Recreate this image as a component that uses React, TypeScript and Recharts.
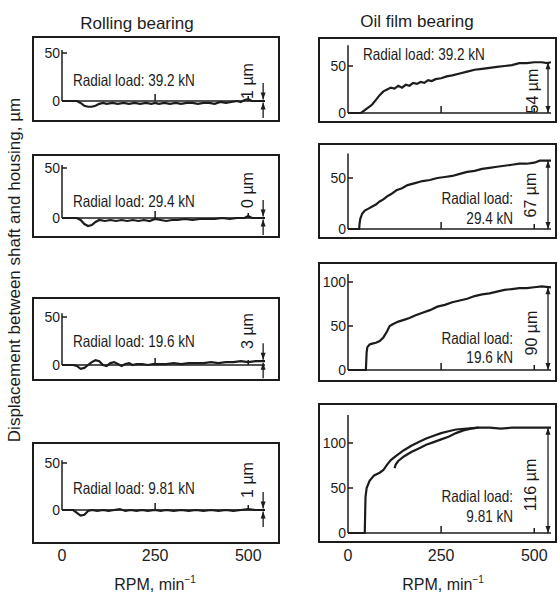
import React from 'react';
import { LineChart, Line, XAxis, YAxis, ReferenceLine } from 'recharts';

// [rpm, displacement µm] pairs
const rolling392 = [[0, 0], [20, 0], [40, 0], [50, -2], [60, -5], [70, -6], [80, -6], [90, -5], [100, -3], [110, -2], [120, -3], [135, -2], [150, -3], [165, -2], [180, -3], [195, -2], [210, -3], [225, -2], [240, -3], [250, -2], [260, -3], [275, -2], [290, -3], [305, -2], [320, -3], [335, -2], [350, -2], [365, -3], [380, -2], [395, -2], [410, -3], [425, -1], [440, -2], [455, -1], [470, 0], [480, -1], [490, 1], [500, 2], [510, 0], [525, 0], [545, 0]];
const rolling294 = [[0, 0], [40, 0], [50, -2], [60, -6], [70, -8], [80, -7], [90, -4], [100, -2], [115, -3], [130, -2], [145, -3], [160, -2], [175, -3], [190, -2], [205, -3], [220, -2], [235, -3], [250, -1], [265, -2], [280, -3], [295, -2], [310, -2], [330, -1], [350, -2], [370, -1], [390, -1], [410, -1], [430, 0], [450, -1], [470, 0], [490, 0], [500, 2], [510, 0], [545, 0]];
const rolling196 = [[0, 0], [30, 0], [40, -1], [50, -4], [60, -3], [70, 0], [80, 3], [90, 5], [100, 4], [110, 0], [120, -1], [130, 2], [140, 3], [150, 1], [160, -1], [170, 1], [180, 2], [190, 0], [200, 1], [215, 1], [230, 0], [245, 1], [260, 1], [280, 1], [300, 2], [320, 1], [340, 2], [360, 2], [380, 2], [400, 3], [420, 2], [440, 3], [460, 3], [480, 4], [500, 3], [520, 4], [545, 4]];
const rolling981 = [[0, 0], [30, 0], [40, -3], [50, -6], [60, -5], [70, -1], [80, 0], [95, -1], [110, 0], [125, -1], [140, 0], [155, 1], [170, -1], [185, 0], [200, -1], [215, 0], [230, -1], [250, 0], [265, -1], [280, 0], [300, -1], [320, 0], [340, -1], [360, 0], [380, -1], [400, 0], [420, -1], [440, 0], [460, -1], [480, 0], [500, 1], [520, 0], [545, 0]];

const oil392 = [[0, 0], [35, 0], [45, 3], [55, 6], [65, 9], [75, 14], [85, 19], [95, 23], [105, 25], [115, 27], [125, 26], [135, 29], [145, 27], [155, 30], [165, 29], [175, 32], [185, 31], [195, 33], [205, 32], [215, 35], [225, 34], [235, 36], [250, 37], [265, 39], [280, 40], [300, 42], [320, 44], [340, 46], [360, 47], [380, 48], [400, 49], [420, 50], [440, 51], [460, 53], [480, 53], [500, 54], [520, 54], [535, 53], [545, 54]];
const oil294 = [[0, 0], [30, 0], [31, 5], [33, 10], [38, 15], [45, 18], [55, 20], [65, 22], [75, 24], [85, 27], [95, 29], [105, 32], [115, 34], [130, 38], [145, 40], [160, 43], [180, 45], [200, 47], [220, 48], [240, 50], [260, 51], [280, 52], [300, 54], [320, 56], [340, 57], [360, 59], [380, 60], [400, 61], [420, 62], [440, 63], [460, 64], [480, 64], [500, 65], [515, 67], [530, 67], [545, 67]];
const oil196 = [[0, 0], [48, 0], [49, 10], [50, 20], [52, 26], [58, 29], [65, 30], [75, 31], [85, 33], [95, 37], [105, 44], [112, 50], [120, 52], [135, 55], [150, 57], [165, 59], [180, 62], [200, 65], [220, 68], [240, 72], [260, 74], [280, 77], [300, 79], [320, 81], [340, 84], [360, 86], [380, 87], [400, 89], [420, 91], [440, 92], [460, 93], [480, 93], [500, 94], [520, 95], [545, 94]];
const oil981Up = [[0, 0], [45, 0], [46, 20], [47, 40], [50, 50], [58, 58], [70, 64], [85, 67], [95, 70], [105, 76], [115, 81], [130, 86], [150, 92], [170, 97], [190, 101], [210, 105], [230, 108], [250, 111], [270, 113], [290, 115], [320, 116], [350, 117], [380, 117], [410, 116], [440, 117], [470, 117], [500, 117], [520, 117], [545, 117]];
const oil981Down = [[125, 72], [128, 76], [135, 80], [150, 85], [170, 90], [190, 94], [210, 98], [230, 101], [250, 104], [270, 107], [290, 111], [310, 114], [330, 116], [350, 117]];

const rpmTicks = [0, 250, 500];
const rpmMax = 545;

const INK = '#1c1c1c';
const SANS = "'Liberation Sans', Arial, sans-serif";

const toPts = (a: number[][]) => a.map(([rpm, um]) => ({ rpm, um }));

const LEFT = { left: 32, width: 248, axisX: 62, plotRight: 265, arrowRpm: 540 };
const RIGHT = { left: 318, width: 239, axisX: 348, plotRight: 551, arrowRpm: 537 };

const panels = [
  { col: LEFT, top: 36, bottom: 122, y0: 101, k: 0.96, yMin: -18, yMax: 53, yTicks: [0, 50], series: [rolling392], arrow: 'point',
    load: ['Radial load: 39.2 kN'], loadX: 73, loadY: [80], loadAnchor: 'start', um: '1 µm', umX: 248, umY: 81 },
  { col: LEFT, top: 154, bottom: 238, y0: 218, k: 1.0, yMin: -18, yMax: 53, yTicks: [0, 50], series: [rolling294], arrow: 'point',
    load: ['Radial load: 29.4 kN'], loadX: 73, loadY: [201], loadAnchor: 'start', um: '0 µm', umX: 248, umY: 190 },
  { col: LEFT, top: 297, bottom: 381, y0: 365, k: 0.96, yMin: -18, yMax: 54, yTicks: [0, 50], series: [rolling196], arrow: 'point',
    load: ['Radial load: 19.6 kN'], loadX: 73, loadY: [341], loadAnchor: 'start', um: '3 µm', umX: 248, umY: 331 },
  { col: LEFT, top: 442, bottom: 544, y0: 510, k: 0.94, yMin: -18, yMax: 53, yTicks: [0, 50], series: [rolling981], arrow: 'point', axisLabels: true,
    load: ['Radial load: 9.81 kN'], loadX: 73, loadY: [488], loadAnchor: 'start', um: '1 µm', umX: 248, umY: 480 },
  { col: RIGHT, top: 37, bottom: 123, y0: 113, k: 0.94, yMin: -5, yMax: 72, yTicks: [0, 50], series: [oil392], arrow: 'span',
    load: ['Radial load: 39.2 kN'], loadX: 363, loadY: [54], loadAnchor: 'start', um: '54 µm', umX: 533, umY: 91 },
  { col: RIGHT, top: 143, bottom: 239, y0: 229, k: 1.02, yMin: -5, yMax: 74, yTicks: [0, 50], series: [oil294], arrow: 'span',
    load: ['Radial load:', '29.4 kN'], loadX: 513, loadY: [198, 218], loadAnchor: 'end', um: '67 µm', umX: 531, umY: 195 },
  { col: RIGHT, top: 262, bottom: 382, y0: 370, k: 0.88, yMin: -5, yMax: 109, yTicks: [0, 50, 100], series: [oil196], arrow: 'span',
    load: ['Radial load:', '19.6 kN'], loadX: 513, loadY: [338, 357], loadAnchor: 'end', um: '90 µm', umX: 532, umY: 333 },
  { col: RIGHT, top: 403, bottom: 543, y0: 533, k: 0.9, yMin: -5, yMax: 131, yTicks: [0, 50, 100], series: [oil981Up, oil981Down], arrow: 'span', axisLabels: true,
    load: ['Radial load:', '9.81 kN'], loadX: 513, loadY: [496, 516], loadAnchor: 'end', um: '116 µm', umX: 531, umY: 485 },
];

// squeeze = horizontal condensing, the reference uses a narrow face for the in-panel notes
const Txt = ({ x, y, size, anchor = 'middle', rotate = false, squeeze = 1, children }: any) => {
  const tx = anchor === 'start' ? '0' : anchor === 'end' ? '-100%' : '-50%';
  const origin = anchor === 'start' ? 'left center' : anchor === 'end' ? 'right center' : 'center';
  return (
    <div style={{
      position: 'absolute', left: x, top: y, fontSize: size, lineHeight: 1, fontFamily: SANS,
      whiteSpace: 'nowrap', color: INK, transformOrigin: origin,
      transform: `translate(${tx}, -50%)${rotate ? ' rotate(-90deg)' : ''}${squeeze !== 1 ? ` scaleX(${squeeze})` : ''}`,
    }}>{children}</div>
  );
};

// arrowhead tip at (x, y) pointing in direction dir (+1 down, -1 up)
const head = (x: number, y: number, dir: number) => (
  <polygon points={`${x},${y} ${x - 2.5},${y - dir * 7} ${x + 2.5},${y - dir * 7}`} fill={INK} />
);

const arrowShape = (both: boolean) => (p: any) => {
  const { x1, y1, x2, y2 } = p;
  const d = y2 >= y1 ? 1 : -1;
  return (
    <g>
      <line x1={x1} y1={y1} x2={x2} y2={y2} stroke={INK} strokeWidth={1.3} />
      {head(x2, y2, d)}
      {both && head(x1, y1, -d)}
    </g>
  );
};

const Panel = ({ spec }: { spec: any }) => {
  const { col, top, bottom, y0, k, yMin, yMax, yTicks } = spec;
  const chartH = spec.axisLabels ? 593 - top : bottom - top;
  const plotTop = y0 - yMax * k;
  const plotBottom = y0 - yMin * k;
  const xh = spec.axisLabels ? 20 : 0;
  const margin = {
    top: plotTop - top,
    left: 0,
    right: col.left + col.width - col.plotRight,
    bottom: top + chartH - plotBottom - xh,
  };
  const last = spec.series[0][spec.series[0].length - 1][1];
  const yTick = (p: any) => (
    <g>
      <line x1={p.x} x2={p.x + 5} y1={p.y} y2={p.y} stroke={INK} strokeWidth={1.5} />
      <text x={p.x - 2} y={p.y} dy={5} textAnchor="end" fontSize={14} fill={INK} fontFamily={SANS}>{p.payload.value}</text>
    </g>
  );
  const xTick = (p: any) => (
    <text x={p.x} y={p.y + (561 - plotBottom)} textAnchor="middle" fontSize={16} fill={INK} fontFamily={SANS}>{p.payload.value}</text>
  );
  return (
    <div style={{ position: 'absolute', left: col.left, top }}>
      <LineChart width={col.width} height={chartH} margin={margin}>
        <XAxis type="number" dataKey="rpm" domain={[0, rpmMax]} allowDataOverflow ticks={rpmTicks} interval={0}
          hide={!spec.axisLabels} height={xh} axisLine={false} tickLine={false} tickSize={0} tickMargin={0} tick={xTick} />
        <YAxis type="number" domain={[yMin, yMax]} allowDataOverflow ticks={yTicks} interval={0}
          width={col.axisX - col.left} axisLine={false} tickLine={false} tickSize={0} tickMargin={0} tick={yTick} />
        <ReferenceLine y={0} stroke={INK} strokeWidth={1.5} />
        <ReferenceLine segment={[{ x: 0, y: 0 }, { x: 0, y: yMax }]} stroke={INK} strokeWidth={1.5} />
        <ReferenceLine segment={[{ x: 250, y: 0 }, { x: 250, y: 7 / k }]} stroke={INK} strokeWidth={1.5} />
        <ReferenceLine segment={[{ x: 500, y: 0 }, { x: 500, y: 5 / k }]} stroke={INK} strokeWidth={1.5} />
        {spec.arrow === 'span' ? (
          <ReferenceLine ifOverflow="visible" segment={[{ x: col.arrowRpm, y: 0 }, { x: col.arrowRpm, y: last }]} shape={arrowShape(true)} />
        ) : null}
        {spec.arrow === 'point' ? (
          <ReferenceLine ifOverflow="visible" segment={[{ x: col.arrowRpm, y: last + 18 / k }, { x: col.arrowRpm, y: last + 1.5 / k }]} shape={arrowShape(false)} />
        ) : null}
        {spec.arrow === 'point' ? (
          <ReferenceLine ifOverflow="visible" segment={[{ x: col.arrowRpm, y: last - 17 / k }, { x: col.arrowRpm, y: last - 1.5 / k }]} shape={arrowShape(false)} />
        ) : null}
        {spec.series.map((s: number[][], i: number) => (
          <Line key={i} data={toPts(s)} dataKey="um" type="linear" dot={false} stroke={INK} strokeWidth={2.2}
            isAnimationActive={false} />
        ))}
      </LineChart>
    </div>
  );
};

export default function App() {
  return (
    <div style={{ position: 'absolute', left: 0, top: 0, width: 560, height: 593, background: '#fff', overflow: 'hidden', fontFamily: SANS }}>
      {panels.map((p, i) => (
        <div key={'b' + i} style={{
          position: 'absolute', left: p.col.left, top: p.top, width: p.col.width, height: p.bottom - p.top,
          border: `2px solid ${INK}`, boxSizing: 'border-box',
        }} />
      ))}
      {panels.map((p, i) => <Panel key={i} spec={p} />)}
      {panels.map((p, i) => (
        <React.Fragment key={'t' + i}>
          {p.load.map((s, j) => (
            <Txt key={j} x={p.loadX} y={p.loadY[j]} size={16.5} anchor={p.loadAnchor} squeeze={0.82}>{s}</Txt>
          ))}
          <Txt x={p.umX} y={p.umY} size={16} rotate>{p.um}</Txt>
        </React.Fragment>
      ))}
      <Txt x={137} y={23} size={17}>Rolling bearing</Txt>
      <Txt x={417} y={21} size={17}>Oil film bearing</Txt>
      <Txt x={14} y={270} size={17}>
        <span style={{ display: 'inline-block', transform: 'rotate(-90deg)' }}>Displacement between shaft and housing, µm</span>
      </Txt>
      <Txt x={155} y={584} size={16}>RPM, min<sup style={{ fontSize: 10 }}>−1</sup></Txt>
      <Txt x={443} y={584} size={16}>RPM, min<sup style={{ fontSize: 10 }}>−1</sup></Txt>
    </div>
  );
}
